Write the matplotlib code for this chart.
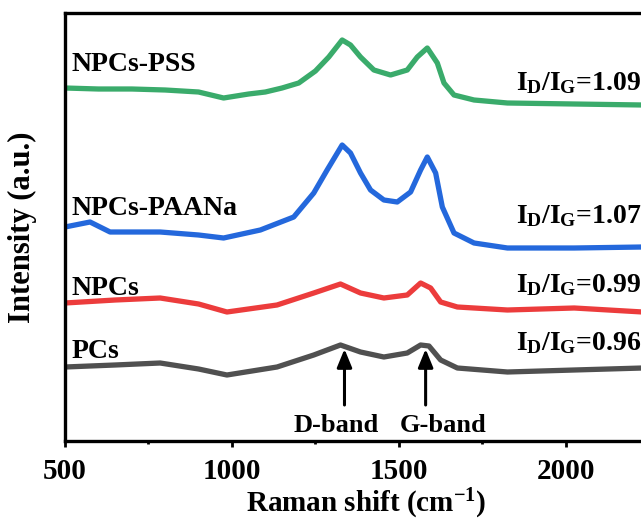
import matplotlib
matplotlib.use("Agg")
import matplotlib.pyplot as plt

plt.rcParams["font.family"] = "Liberation Serif"
plt.rcParams["font.weight"] = "bold"
plt.rcParams["mathtext.fontset"] = "custom"
plt.rcParams["mathtext.rm"] = "Liberation Serif:bold"
plt.rcParams["mathtext.it"] = "Liberation Serif:bold"
plt.rcParams["mathtext.bf"] = "Liberation Serif:bold"

# spectra (Raman shift, intensity in arbitrary units)
pss_x = [500, 600, 700, 800, 900, 975, 1050, 1100, 1150, 1200, 1250, 1290, 1330, 1355,
         1385, 1425, 1475, 1525, 1555, 1585, 1615, 1635, 1665, 1725, 1825, 2025, 2230]
pss_y = [353, 352, 352, 351, 349, 343, 347, 349, 353, 358, 370, 384, 401, 396,
         384, 371, 366, 371, 384, 393, 378, 358, 346, 341, 338, 337, 336]

paana_x = [500, 575, 635, 785, 900, 975, 1085, 1185, 1245, 1285, 1330, 1355, 1385, 1415,
           1455, 1495, 1535, 1565, 1585, 1610, 1630, 1665, 1725, 1825, 2025, 2230]
paana_y = [214, 219, 209, 209, 206, 203, 211, 224, 248, 271, 296, 288, 268, 251,
           241, 239, 249, 271, 284, 268, 234, 208, 198, 193, 193, 194]

npcs_x = [500, 650, 785, 900, 985, 1135, 1245, 1325, 1385, 1455, 1525, 1565, 1595,
          1625, 1675, 1825, 2025, 2230]
npcs_y = [138, 141, 143, 137, 129, 136, 148, 157, 148, 143, 146, 158, 153,
          139, 134, 131, 133, 129]

pcs_x = [500, 650, 785, 900, 985, 1135, 1245, 1325, 1385, 1455, 1525, 1565, 1590,
         1625, 1675, 1825, 2025, 2230]
pcs_y = [74, 76, 78, 72, 66, 74, 86, 96, 89, 84, 88, 96, 95,
         81, 73, 69, 71, 73]

names = ["NPCs-PSS", "NPCs-PAANa", "NPCs", "PCs"]
ratios = ["1.09", "1.07", "0.99", "0.96"]
colors = ["#3aab6b", "#2468dc", "#ec3c3c", "#505050"]

name_y = [370, 226, 146, 83]
ratio_y = [351, 218, 149, 91]

band_names = ["D-band", "G-band"]
band_pos = [1337, 1580]
band_text_x = [1313, 1631]

fig = plt.figure(figsize=(6.41, 5.19), dpi=100)
ax = fig.add_axes([65 / 641, 78 / 519, 1 - 65 / 641, 428 / 519])

series = [(pss_x, pss_y), (paana_x, paana_y), (npcs_x, npcs_y), (pcs_x, pcs_y)]
for (xs, ys), c in zip(series, colors):
    ax.plot(xs, ys, color=c, lw=3.8, solid_joinstyle="round", solid_capstyle="butt")

for name, y in zip(names, name_y):
    ax.text(519, y, name, fontsize=20, fontweight="bold", va="baseline")

for r, y in zip(ratios, ratio_y):
    ax.text(1852, y, r"$I_D/I_G$=" + r, fontsize=20, fontweight="bold", va="baseline")

for label, pos, tx in zip(band_names, band_pos, band_text_x):
    ax.annotate("", xy=(pos, 92), xytext=(pos, 36),
                arrowprops=dict(arrowstyle="-|>,head_length=1.1,head_width=0.45",
                                color="black", lw=2.2, shrinkA=0, shrinkB=0))
    ax.text(tx, 9, label, fontsize=19, fontweight="bold", ha="center", va="baseline")

ax.set_xlim(500, 2225)
ax.set_ylim(0, 428)
ax.set_xticks([500, 1000, 1500, 2000])
ax.set_xticks([750, 1250, 1750], minor=True)
ax.set_yticks([])
ax.tick_params(axis="x", which="major", direction="out", length=4, width=2,
               labelsize=21, pad=8)
ax.tick_params(axis="x", which="minor", direction="out", length=2.5, width=2)
for lbl in ax.get_xticklabels():
    lbl.set_fontweight("bold")

for side in ["left", "bottom", "top"]:
    ax.spines[side].set_linewidth(2.4)
ax.spines["right"].set_visible(False)

ax.set_xlabel(r"Raman shift (cm$^{-1}$)", fontsize=21, fontweight="bold")
ax.xaxis.set_label_coords(0.523, -0.106)
ax.set_ylabel("Intensity (a.u.)", fontsize=22, fontweight="bold")
ax.yaxis.set_label_coords(-0.048, 0.5)

fig.savefig("out.png", dpi=100)
